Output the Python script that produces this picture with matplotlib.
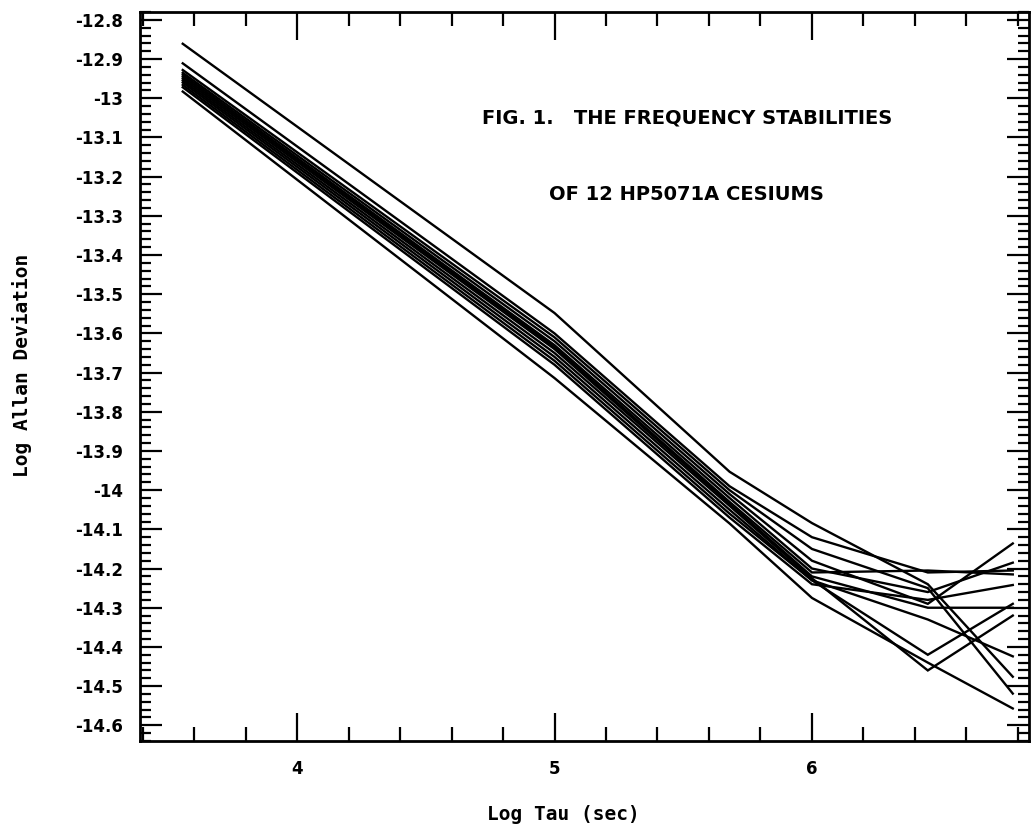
import matplotlib
matplotlib.use("Agg")
import matplotlib.pyplot as plt
from matplotlib.ticker import MultipleLocator, FuncFormatter

# ---- data ----
log_tau = [3.556, 5.00, 5.68, 6.00, 6.45, 6.78]

clock_01 = [-12.861, -13.548, -13.953, -14.084, -14.240, -14.476]
clock_02 = [-12.911, -13.600, -13.990, -14.120, -14.210, -14.205]
clock_03 = [-12.928, -13.610, -14.000, -14.150, -14.250, -14.519]
clock_04 = [-12.935, -13.620, -14.010, -14.180, -14.290, -14.136]
clock_05 = [-12.940, -13.630, -14.020, -14.200, -14.260, -14.185]
clock_06 = [-12.945, -13.635, -14.030, -14.210, -14.205, -14.215]
clock_07 = [-12.950, -13.640, -14.035, -14.220, -14.300, -14.300]
clock_08 = [-12.955, -13.650, -14.040, -14.225, -14.460, -14.320]
clock_09 = [-12.960, -13.660, -14.050, -14.230, -14.420, -14.290]
clock_10 = [-12.966, -13.670, -14.060, -14.230, -14.330, -14.424]
clock_11 = [-12.972, -13.680, -14.070, -14.240, -14.280, -14.242]
clock_12 = [-12.983, -13.714, -14.085, -14.275, -14.440, -14.557]

clocks = [clock_01, clock_02, clock_03, clock_04, clock_05, clock_06,
          clock_07, clock_08, clock_09, clock_10, clock_11, clock_12]

x_major = [4, 5, 6]
x_labels = ["4", "5", "6"]

title_1 = "FIG. 1.   THE FREQUENCY STABILITIES"
title_2 = "OF 12 HP5071A CESIUMS"
x_title = "Log Tau (sec)"
y_title = "Log Allan Deviation"

# ---- figure ----
W, H = 1031, 831
fig = plt.figure(figsize=(W / 100, H / 100), dpi=100)
ax = fig.add_axes([140 / W, 1 - 741 / H, (1029 - 140) / W, (741 - 12) / H])

for ys in clocks:
    ax.plot(log_tau, ys, color="black", lw=1.7, solid_joinstyle="miter")

ax.set_xlim(3.39, 6.843)
ax.set_ylim(-14.64, -12.78)

ax.set_xticks(x_major)
ax.set_xticklabels(x_labels)
ax.xaxis.set_minor_locator(MultipleLocator(0.2))
ax.yaxis.set_major_locator(MultipleLocator(0.1))
ax.yaxis.set_minor_locator(MultipleLocator(0.02))
ax.yaxis.set_major_formatter(FuncFormatter(lambda v, p: "%g" % round(v, 2)))

ax.tick_params(axis="both", which="both", direction="in", top=True, right=True,
               colors="black", width=1.6)
ax.tick_params(axis="x", which="major", length=20, pad=14, labelsize=12)
ax.tick_params(axis="x", which="minor", length=10)
ax.tick_params(axis="y", which="major", length=16, pad=12, labelsize=12)
ax.tick_params(axis="y", which="minor", length=8)
for lab in ax.get_xticklabels() + ax.get_yticklabels():
    lab.set_fontweight("bold")

for sp in ax.spines.values():
    sp.set_linewidth(2.0)
    sp.set_color("black")

ax.text(0.615, 0.855, title_1, transform=ax.transAxes, ha="center", va="center",
        fontsize=14, fontweight="bold", family="DejaVu Sans")
ax.text(0.615, 0.75, title_2, transform=ax.transAxes, ha="center", va="center",
        fontsize=14, fontweight="bold", family="DejaVu Sans")

fig.text(563 / W, 1 - 815 / H, x_title, ha="center", va="center",
         fontsize=14, fontweight="bold", family="DejaVu Sans Mono")
fig.text(22 / W, 1 - 365 / H, y_title, ha="center", va="center", rotation=90,
         fontsize=14, fontweight="bold", family="DejaVu Sans Mono")

fig.savefig("out.png", dpi=100, facecolor="white")
